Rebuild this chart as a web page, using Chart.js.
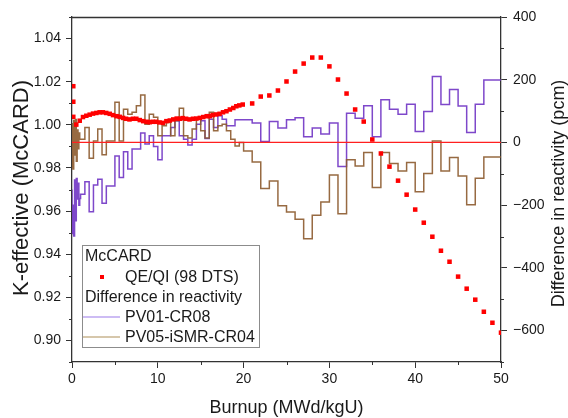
<!DOCTYPE html>
<html><head><meta charset="utf-8">
<script src="https://cdn.jsdelivr.net/npm/chart.js@4.4.0/dist/chart.umd.min.js"></script>
<style>html,body{margin:0;padding:0;background:#fff}#wrap{width:568px;height:418px}</style>
</head><body><div id="wrap"><canvas id="c" width="568" height="418"></canvas></div>
<script>
// ---- data ----
const burnupK = [0.15,0.15,0.15,0.5,0.9,1.28,1.67,2.06,2.45,2.84,3.22,3.6,3.99,4.4,4.78,5.2,5.56,5.95,6.3,6.7,7.1,7.5,7.9,8.3,8.7,9.05,9.4,9.8,10.2,10.6,11.0,11.4,11.8,12.2,12.6,12.9,13.3,13.7,14.1,14.5,14.9,15.3,15.7,16.05,16.4,16.8,17.2,17.6,18.0,18.4,18.8,19.15,19.5,19.9,
  21,22,23,24,25,26,27,28,29,30,31,32,33,34,35,36,37,38,39,40,41,42,43,44,45,46,47,48,49,50];
const kEff = [1.0179,1.0107,1.0037,1.0001,1.0019,1.0036,1.0042,1.0047,1.0052,1.0055,1.0058,1.0058,1.0055,1.0051,1.0045,1.0040,1.0037,1.0032,1.0028,1.0025,1.0028,1.0028,1.0022,1.0017,1.0014,1.0012,1.0014,1.0014,1.0011,1.0009,1.0017,1.0020,1.0025,1.0029,1.0028,1.0031,1.0028,1.0025,1.0028,1.0029,1.0032,1.0036,1.0040,1.0040,1.0045,1.0048,1.0051,1.0058,1.0063,1.0071,1.0078,1.0086,1.0090,1.0094,
  1.0099,1.0131,1.0136,1.0159,1.0201,1.0247,1.0284,1.0312,1.0312,1.0271,1.0210,1.0145,1.0071,1.0015,0.9932,0.9867,0.9806,0.9741,0.9676,0.9607,0.9546,0.9481,0.9416,0.9365,0.9296,0.9240,0.9189,0.9133,0.9082,0.9036];

const stepBurnup = [0,0.1,0.2,0.3,0.4,0.5,0.6,0.7,0.8,0.9,
  1.0,1.5,2.0,2.5,3.0,3.5,4.0,4.5,5.0,5.5,6.0,6.5,7.0,7.5,8.0,8.5,9.0,9.5,10.0,10.5,11.0,11.5,12.0,12.5,13.0,13.5,14.0,14.5,15.0,15.5,16.0,16.5,17.0,17.5,18.0,18.5,19.0,19.5,
  20,21,22,23,24,25,26,27,28,29,30,31,32,33,34,35,36,37,38,39,40,41,42,43,44,45,46,47,48,49,50];
const diffPV01 = [-150,-290,-200,-298,-120,-250,-115,-180,-130,-200,
  -179,-165,-125,-221,-136,-117,-194,-139,-139,-43,-112,-30,-85,-21,-21,30,-5,21,-13,-55,21,21,48,69,21,10,-8,10,58,69,13,74,48,85,74,53,53,72,
  72,72,62,3,67,46,72,79,18,46,27,62,-77,93,77,117,18,136,106,90,122,35,99,210,121,169,116,32,122,199,199];
const diffPV05 = [-80,60,-85,70,-40,73,-60,40,-20,30,
  10,10,48,-50,5,43,-39,5,5,128,5,106,90,96,117,151,58,90,80,21,53,64,21,69,109,21,14,43,74,37,14,96,37,53,58,37,10,-11,
  0,-27,-62,-147,-123,-202,-222,-245,-307,-232,-190,-104,-227,-55,-75,-32,-144,-32,-67,-91,-64,-157,-99,5,-91,-48,-107,-199,-114,-46,-46];

const xTicks = [0,10,20,30,40,50];
const xMinor = [5,15,25,35,45];
const kTicks = [0.90,0.92,0.94,0.96,0.98,1.00,1.02,1.04];
const kMinor = [0.89,0.91,0.93,0.95,0.97,0.99,1.01,1.03,1.05];
const pcmTicks = [-600,-400,-200,0,200,400];
const pcmMinor = [-700,-500,-300,-100,100,300];

const FONT = "'Liberation Sans', Arial, sans-serif";
const AX = '#333333';

function pts(xs, ys){ return xs.map((x,i)=>({x:x, y:ys[i]})); }

const extras = {
  id:'extras',
  afterDraw(chart){
    const ctx = chart.ctx, a = chart.chartArea;
    const sx = chart.scales.x, sy = chart.scales.y, s2 = chart.scales.y2;
    ctx.save();
    ctx.strokeStyle = AX; ctx.lineWidth = 1.3;
    ctx.beginPath(); ctx.moveTo(a.left, a.top+0.5); ctx.lineTo(a.right, a.top+0.5); ctx.stroke();
    ctx.lineWidth = 1;
    ctx.beginPath();
    xMinor.forEach(v=>{const p=Math.round(sx.getPixelForValue(v))+0.5; ctx.moveTo(p,a.bottom); ctx.lineTo(p,a.bottom+3);});
    kMinor.forEach(v=>{const p=Math.round(sy.getPixelForValue(v))+0.5; ctx.moveTo(a.left,p); ctx.lineTo(a.left-3,p);});
    pcmMinor.forEach(v=>{const p=Math.round(s2.getPixelForValue(v))+0.5; ctx.moveTo(a.right,p); ctx.lineTo(a.right+3,p);});
    ctx.stroke();
    ctx.fillStyle = '#1a1a1a';
    ctx.textAlign = 'center'; ctx.textBaseline = 'middle';
    ctx.font = '18px ' + FONT;
    ctx.fillText('Burnup (MWd/kgU)', (a.left+a.right)/2, 408);
    ctx.save(); ctx.translate(559, (a.top+a.bottom)/2+4); ctx.rotate(-Math.PI/2);
    ctx.fillText('Difference in reactivity (pcm)', 0, 0); ctx.restore();
    ctx.font = '22px ' + FONT;
    ctx.save(); ctx.translate(22, 188); ctx.rotate(-Math.PI/2);
    ctx.fillText('K-effective (McCARD)', 0, 0); ctx.restore();
    // legend
    const L=82, T=245, R=259, B=347;
    ctx.fillStyle='#fff'; ctx.fillRect(L,T,R-L,B-T);
    ctx.strokeStyle='#8c8c8c'; ctx.lineWidth=1; ctx.strokeRect(L+0.5,T+0.5,R-L,B-T);
    ctx.fillStyle='#1a1a1a'; ctx.font='16px '+FONT; ctx.textAlign='left'; ctx.textBaseline='middle';
    ctx.fillText('McCARD', 85, 257);
    ctx.fillText('QE/QI (98 DTS)', 125, 278);
    ctx.fillText('Difference in reactivity', 85, 298);
    ctx.fillText('PV01-CR08', 125, 318);
    ctx.fillText('PV05-iSMR-CR04', 125, 338);
    ctx.fillStyle='#ff0000'; ctx.fillRect(100,275,4,4);
    ctx.lineWidth=1.4;
    ctx.strokeStyle='#bda6f0'; ctx.beginPath(); ctx.moveTo(83,317); ctx.lineTo(120,317); ctx.stroke();
    ctx.strokeStyle='#c8b48f'; ctx.beginPath(); ctx.moveTo(83,337); ctx.lineTo(120,337); ctx.stroke();
    ctx.restore();
  }
};

function axisOpts(extra){
  return Object.assign({
    grid:{display:true, drawOnChartArea:false, drawTicks:true, tickLength:6, color:AX, tickColor:AX, tickWidth:1},
    border:{display:true, color:AX, width:1.3},
  }, extra);
}

new Chart(document.getElementById('c'), {
  type:'line',
  data:{datasets:[
    {label:'QE/QI (98 DTS)', data:pts(burnupK,kEff), yAxisID:'y', showLine:false,
     pointStyle:'rect', pointRadius:3.2, pointBackgroundColor:'#ff0000', pointBorderWidth:0, order:0},
    {label:'zero', data:[{x:0,y:0},{x:50,y:0}], yAxisID:'y2', borderColor:'#ff2020', borderWidth:1.2, pointRadius:0, order:1},
    {label:'PV01-CR08', data:pts(stepBurnup,diffPV01), yAxisID:'y2', stepped:'after', borderColor:'rgba(112,52,196,0.9)', borderWidth:1.5, pointRadius:0, order:3},
    {label:'PV05-iSMR-CR04', data:pts(stepBurnup,diffPV05), yAxisID:'y2', stepped:'after', borderColor:'rgba(140,90,45,0.9)', borderWidth:1.5, pointRadius:0, order:2}
  ]},
  options:{
    responsive:false, animation:false, devicePixelRatio:1,
    layout:{padding:{top:17,left:0,right:0,bottom:0}},
    plugins:{legend:{display:false}, tooltip:{enabled:false}},
    scales:{
      x: axisOpts({type:'linear', position:'bottom', min:0, max:50,
        afterBuildTicks:s=>{s.ticks=xTicks.map(v=>({value:v}));},
        afterFit:s=>{s.height=56;},
        ticks:{font:{family:FONT,size:14}, color:'#1a1a1a', padding:3, maxRotation:0}}),
      y: axisOpts({type:'linear', position:'left', min:0.89, max:1.05,
        afterBuildTicks:s=>{s.ticks=kTicks.map(v=>({value:v}));},
        afterFit:s=>{s.width=72;},
        ticks:{font:{family:FONT,size:14}, color:'#1a1a1a', padding:5, callback:v=>Number(v).toFixed(2)}}),
      y2: axisOpts({type:'linear', position:'right', min:-700, max:400,
        afterBuildTicks:s=>{s.ticks=pcmTicks.map(v=>({value:v}));},
        afterFit:s=>{s.width=67;},
        ticks:{font:{family:FONT,size:14}, color:'#1a1a1a', padding:6, callback:v=> v<0 ? '\u2212'+Math.abs(v) : String(v)}})
    }
  },
  plugins:[extras]
});
</script></body></html>
